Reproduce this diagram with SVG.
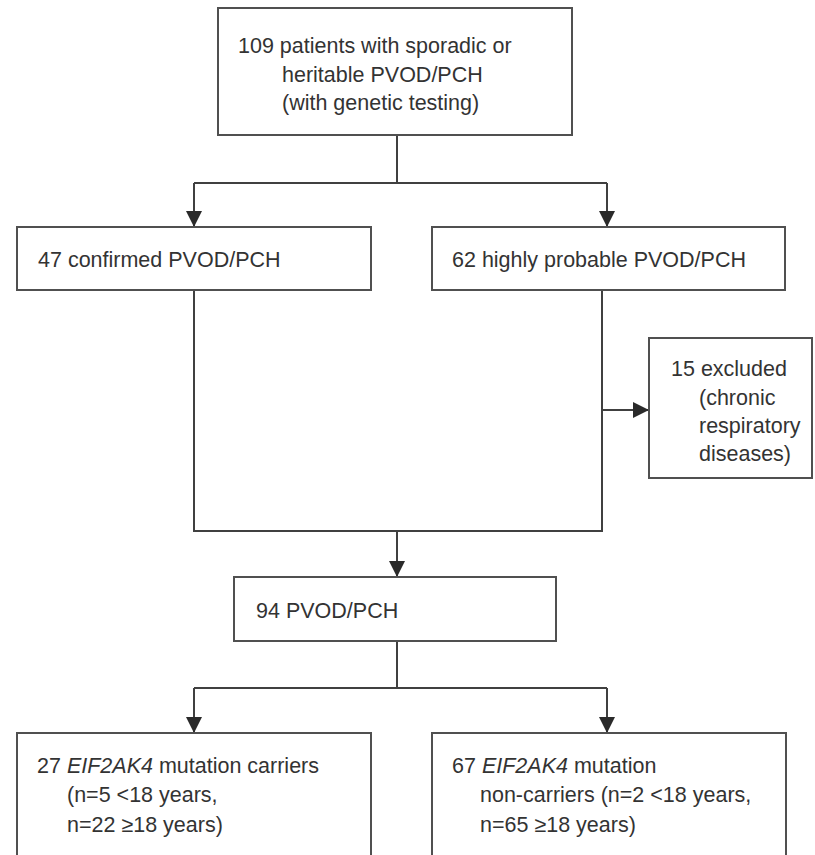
<svg xmlns="http://www.w3.org/2000/svg" width="815" height="855" viewBox="0 0 815 855">
  <style>
    .box { fill: #ffffff; stroke: #505050; stroke-width: 2; }
    .lbl { font-family: "Liberation Sans", Arial, sans-serif; font-size: 21.5px; fill: #333333; }
    .wire { fill: none; stroke: #404040; stroke-width: 2; }
    .gene { font-style: italic; }
  </style>
  <defs>
    <marker id="head" viewBox="0 0 16 16" refX="15" refY="8" markerWidth="16" markerHeight="16" markerUnits="userSpaceOnUse" orient="auto">
      <path d="M0,0 L16,8 L0,16 Z" fill="#2a2a2a"/>
    </marker>
  </defs>
  <rect width="815" height="855" fill="#ffffff"/>

  <g id="connectors">
    <!-- split from the cohort box -->
    <path class="wire" d="M397,135 V183"/>
    <path class="wire" d="M194,183 H607"/>
    <path class="wire" d="M194,183 V226" marker-end="url(#head)"/>
    <path class="wire" d="M607,183 V226" marker-end="url(#head)"/>
    <!-- merge into 94 -->
    <path class="wire" d="M194,290 V531 H602 V290"/>
    <path class="wire" d="M602,410 H648" marker-end="url(#head)"/>
    <path class="wire" d="M397,531 V576" marker-end="url(#head)"/>
    <!-- split by mutation status -->
    <path class="wire" d="M397,641 V688"/>
    <path class="wire" d="M194,688 H607"/>
    <path class="wire" d="M194,688 V732" marker-end="url(#head)"/>
    <path class="wire" d="M607,688 V732" marker-end="url(#head)"/>
  </g>

  <g id="cohort">
    <rect class="box" x="218" y="8" width="354" height="127"/>
    <text class="lbl" x="238" y="53">109 patients with sporadic or</text>
    <text class="lbl" x="282" y="82">heritable PVOD/PCH</text>
    <text class="lbl" x="282" y="110">(with genetic testing)</text>
  </g>

  <g id="confirmed">
    <rect class="box" x="17" y="227" width="354" height="63"/>
    <text class="lbl" x="38" y="267">47 confirmed PVOD/PCH</text>
  </g>

  <g id="probable">
    <rect class="box" x="432" y="227" width="353" height="63"/>
    <text class="lbl" x="452" y="267">62 highly probable PVOD/PCH</text>
  </g>

  <g id="excluded">
    <rect class="box" x="649" y="338" width="163" height="140"/>
    <text class="lbl" x="671" y="376">15 excluded</text>
    <text class="lbl" x="699" y="405">(chronic</text>
    <text class="lbl" x="699" y="433">respiratory</text>
    <text class="lbl" x="699" y="461">diseases)</text>
  </g>

  <g id="pooled">
    <rect class="box" x="234" y="577" width="322" height="64"/>
    <text class="lbl" x="256" y="618">94 PVOD/PCH</text>
  </g>

  <g id="carriers">
    <rect class="box" x="17" y="733" width="354" height="130"/>
    <text class="lbl" x="37" y="773">27 <tspan class="gene">EIF2AK4</tspan> mutation carriers</text>
    <text class="lbl" x="67" y="802">(n=5 &lt;18 years,</text>
    <text class="lbl" x="67" y="832">n=22 ≥18 years)</text>
  </g>

  <g id="noncarriers">
    <rect class="box" x="432" y="733" width="354" height="130"/>
    <text class="lbl" x="452" y="773">67 <tspan class="gene">EIF2AK4</tspan> mutation</text>
    <text class="lbl" x="480" y="802">non-carriers (n=2 &lt;18 years,</text>
    <text class="lbl" x="480" y="832">n=65 ≥18 years)</text>
  </g>
</svg>
